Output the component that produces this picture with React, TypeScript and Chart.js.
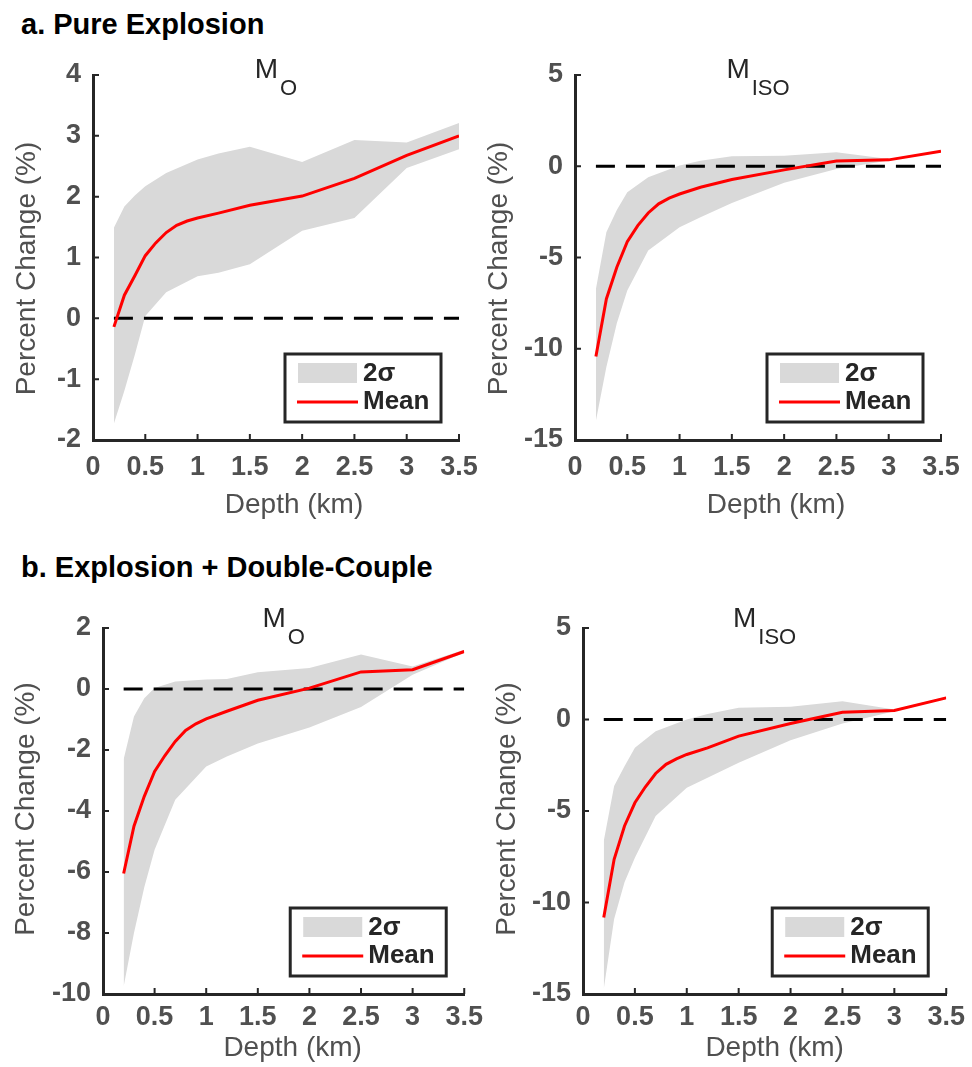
import React, { useEffect, useRef } from "react";
import { Chart, registerables } from "chart.js";

Chart.register(...registerables);

// ---------- data ----------
const DEPTHS_KM = [0.2, 0.3, 0.4, 0.5, 0.7, 1.0, 1.2, 1.5, 2.0, 2.5, 3.0, 3.5];
const MEAN_DEPTHS_KM = [0.2, 0.3, 0.4, 0.5, 0.6, 0.7, 0.8, 0.9, 1.0, 1.2, 1.5, 2.0, 2.5, 3.0, 3.5];
const ZERO_LINE_X = [0.2, 3.5];

// a. Pure Explosion — M_O
const A_MO_MEAN = [-0.14, 0.38, 0.7, 1.03, 1.24, 1.41, 1.53, 1.6, 1.65, 1.73, 1.86, 2.01, 2.3, 2.68, 3.0];
const A_MO_UPPER = [1.49, 1.84, 2.02, 2.17, 2.39, 2.61, 2.71, 2.82, 2.57, 2.93, 2.89, 3.21];
const A_MO_LOWER = [-1.73, -1.19, -0.6, 0.04, 0.43, 0.69, 0.75, 0.89, 1.44, 1.65, 2.47, 2.78];

// a. Pure Explosion — M_ISO
const A_MISO_MEAN = [-10.43, -7.27, -5.53, -4.13, -3.25, -2.56, -2.06, -1.75, -1.52, -1.15, -0.73, -0.2, 0.29, 0.35, 0.82];
const A_MISO_UPPER = [-6.72, -3.62, -2.4, -1.42, -0.6, 0.04, 0.3, 0.55, 0.58, 0.77, 0.4, 0.86];
const A_MISO_LOWER = [-13.94, -11.0, -8.6, -6.81, -4.62, -3.34, -2.79, -2.01, -0.91, -0.15, 0.31, 0.77];

// b. Explosion + Double-Couple — M_O
const B_MO_MEAN = [-6.05, -4.5, -3.52, -2.7, -2.18, -1.72, -1.36, -1.14, -0.98, -0.73, -0.37, 0.03, 0.56, 0.63, 1.23];
const B_MO_UPPER = [-2.3, -0.9, -0.3, 0.03, 0.25, 0.31, 0.33, 0.55, 0.69, 1.13, 0.74, 1.29];
const B_MO_LOWER = [-9.75, -8.0, -6.5, -5.27, -3.63, -2.54, -2.21, -1.79, -1.26, -0.59, 0.47, 1.2];

// b. Explosion + Double-Couple — M_ISO
const B_MISO_MEAN = [-10.82, -7.64, -5.82, -4.55, -3.69, -2.95, -2.45, -2.15, -1.91, -1.55, -0.91, -0.22, 0.4, 0.49, 1.18];
const B_MISO_UPPER = [-6.64, -3.64, -2.55, -1.55, -0.64, 0.0, 0.3, 0.64, 0.69, 1.0, 0.55, 1.24];
const B_MISO_LOWER = [-14.73, -10.9, -8.9, -7.55, -5.27, -3.73, -3.18, -2.36, -1.13, -0.22, 0.45, 1.13];

const X_LABEL = "Depth (km)";
const Y_LABEL = "Percent Change (%)";
const BAND_LABEL = "2σ";
const MEAN_LABEL = "Mean";

const FONT = "'Liberation Sans', Arial, Helvetica, sans-serif";
const AXIS_COLOR = "#262626";
const LABEL_COLOR = "#505050";
const BAND_COLOR = "#d9d9d9";

type Panel = {
  key: string;
  main: string;
  sub: string;
  mean: number[];
  upper: number[];
  lower: number[];
  yMin: number;
  yMax: number;
  yStep: number;
  canvas: { left: number; top: number; width: number; height: number };
  yScaleWidth: number;
  xScaleHeight: number;
  padTop: number;
  padRight: number;
  yTitleGap: number;
  yTitleDy: number;
  xTitleDx: number;
  xTitleBase: number;
  xTickPad: number;
  titleDy: number;
};

const PANELS: Panel[] = [
  {
    key: "a-mo", main: "M", sub: "O",
    mean: A_MO_MEAN, upper: A_MO_UPPER, lower: A_MO_LOWER,
    yMin: -2, yMax: 4, yStep: 1,
    canvas: { left: 0, top: 40, width: 490, height: 500 },
    yScaleWidth: 93, xScaleHeight: 100, padTop: 35, padRight: 31,
    yTitleGap: 58, yTitleDy: 11, xTitleDx: 18, xTitleBase: 73, xTickPad: 11, titleDy: 3,
  },
  {
    key: "a-miso", main: "M", sub: "ISO",
    mean: A_MISO_MEAN, upper: A_MISO_UPPER, lower: A_MISO_LOWER,
    yMin: -15, yMax: 5, yStep: 5,
    canvas: { left: 476, top: 40, width: 496, height: 500 },
    yScaleWidth: 99, xScaleHeight: 100, padTop: 35, padRight: 31,
    yTitleGap: 68, yTitleDy: 11, xTitleDx: 18, xTitleBase: 73, xTickPad: 11, titleDy: 3,
  },
  {
    key: "b-mo", main: "M", sub: "O",
    mean: B_MO_MEAN, upper: B_MO_UPPER, lower: B_MO_LOWER,
    yMin: -10, yMax: 2, yStep: 2,
    canvas: { left: 0, top: 590, width: 490, height: 477 },
    yScaleWidth: 103, xScaleHeight: 73, padTop: 38, padRight: 23,
    yTitleGap: 69, yTitleDy: -2, xTitleDx: 9, xTitleBase: 62, xTickPad: 7, titleDy: -1,
  },
  {
    key: "b-miso", main: "M", sub: "ISO",
    mean: B_MISO_MEAN, upper: B_MISO_UPPER, lower: B_MISO_LOWER,
    yMin: -15, yMax: 5, yStep: 5,
    canvas: { left: 476, top: 590, width: 496, height: 477 },
    yScaleWidth: 107, xScaleHeight: 73, padTop: 38, padRight: 24,
    yTitleGap: 68, yTitleDy: -2, xTitleDx: 10, xTitleBase: 62, xTickPad: 7, titleDy: -1,
  },
];

const decorPlugin = {
  id: "decor",
  afterDraw(chart: any, _args: any, opts: any) {
    const ctx: CanvasRenderingContext2D = chart.ctx;
    const { left, right, top, bottom } = chart.chartArea;
    const xs = chart.scales.x;
    const ys = chart.scales.y;
    ctx.save();

    // inward tick marks
    ctx.strokeStyle = AXIS_COLOR;
    ctx.lineWidth = 2;
    ctx.beginPath();
    xs.ticks.forEach((t: any) => {
      const p = xs.getPixelForValue(t.value);
      ctx.moveTo(p, bottom);
      ctx.lineTo(p, bottom - 6);
    });
    ys.ticks.forEach((t: any) => {
      const p = ys.getPixelForValue(t.value);
      ctx.moveTo(left, p);
      ctx.lineTo(left + 6, p);
    });
    ctx.stroke();

    // subplot title with subscript
    ctx.fillStyle = AXIS_COLOR;
    ctx.textBaseline = "alphabetic";
    ctx.textAlign = "left";
    const mainFont = `normal 28px ${FONT}`;
    const subFont = `normal 22px ${FONT}`;
    ctx.font = mainFont;
    const wMain = ctx.measureText(opts.main).width;
    ctx.font = subFont;
    const wSub = ctx.measureText(opts.sub).width;
    const gap = 2;
    const total = wMain + gap + wSub;
    const cx = (left + right) / 2;
    const baseMain = top + opts.titleDy;
    ctx.font = mainFont;
    ctx.fillText(opts.main, cx - total / 2, baseMain);
    ctx.font = subFont;
    ctx.fillText(opts.sub, cx - total / 2 + wMain + gap, baseMain + 17);

    // axis titles
    ctx.fillStyle = LABEL_COLOR;
    ctx.font = `normal 28px ${FONT}`;
    ctx.textAlign = "center";
    ctx.fillText(X_LABEL, cx + opts.xTitleDx, bottom + opts.xTitleBase);
    ctx.save();
    ctx.translate(left - opts.yTitleGap, (top + bottom) / 2 + opts.yTitleDy);
    ctx.rotate(-Math.PI / 2);
    ctx.fillText(Y_LABEL, 0, 0);
    ctx.restore();

    // legend box
    const bw = 156;
    const bh = 68;
    const x0 = right - 18 - bw;
    const y0 = bottom - 18 - bh;
    ctx.fillStyle = "#ffffff";
    ctx.fillRect(x0, y0, bw, bh);
    ctx.strokeStyle = AXIS_COLOR;
    ctx.lineWidth = 3;
    ctx.strokeRect(x0, y0, bw, bh);
    const band = chart.data.datasets[0];
    const mean = chart.data.datasets[3];
    ctx.fillStyle = band.backgroundColor;
    ctx.fillRect(x0 + 13, y0 + 9, 59, 20);
    ctx.strokeStyle = mean.borderColor;
    ctx.lineWidth = 3;
    ctx.beginPath();
    ctx.moveTo(x0 + 12, y0 + 48);
    ctx.lineTo(x0 + 73, y0 + 48);
    ctx.stroke();
    ctx.fillStyle = AXIS_COLOR;
    ctx.font = `bold 26px ${FONT}`;
    ctx.textAlign = "left";
    ctx.textBaseline = "middle";
    ctx.fillText(band.label, x0 + 78, y0 + 20);
    ctx.fillText(mean.label, x0 + 78, y0 + 48);

    ctx.restore();
  },
};

function PanelChart({ p }: { p: Panel }) {
  const ref = useRef<HTMLCanvasElement | null>(null);
  useEffect(() => {
    if (!ref.current) return;
    const toXY = (xs: number[], ys: number[]) => xs.map((d, i) => ({ x: d, y: ys[i] }));
    const tickFont = { family: FONT, size: 27, weight: "bold" as const };
    const chart = new Chart(ref.current, {
      type: "line",
      data: {
        datasets: [
          {
            label: BAND_LABEL,
            data: toXY(DEPTHS_KM, p.upper),
            borderWidth: 0,
            borderColor: "rgba(0,0,0,0)",
            backgroundColor: BAND_COLOR,
            pointRadius: 0,
            fill: "+1",
            order: 3,
          },
          {
            label: BAND_LABEL + " lower",
            data: toXY(DEPTHS_KM, p.lower),
            borderWidth: 0,
            borderColor: "rgba(0,0,0,0)",
            backgroundColor: BAND_COLOR,
            pointRadius: 0,
            fill: false,
            order: 3,
          },
          {
            label: "zero",
            data: ZERO_LINE_X.map((x) => ({ x, y: 0 })),
            borderColor: "#000000",
            borderWidth: 3,
            borderDash: [19, 11],
            pointRadius: 0,
            fill: false,
            order: 2,
          },
          {
            label: MEAN_LABEL,
            data: toXY(MEAN_DEPTHS_KM, p.mean),
            borderColor: "#ff0000",
            borderWidth: 3,
            pointRadius: 0,
            fill: false,
            order: 1,
          },
        ],
      },
      options: {
        responsive: false,
        animation: false,
        devicePixelRatio: 1,
        layout: { padding: { top: p.padTop, right: p.padRight, left: 0, bottom: 0 } },
        plugins: {
          legend: { display: false },
          tooltip: { enabled: false },
          title: { display: false },
          decor: {
            main: p.main,
            sub: p.sub,
            titleDy: p.titleDy,
            yTitleGap: p.yTitleGap,
            yTitleDy: p.yTitleDy,
            xTitleDx: p.xTitleDx,
            xTitleBase: p.xTitleBase,
          },
        } as any,
        scales: {
          x: {
            type: "linear",
            min: 0,
            max: 3.5,
            ticks: {
              stepSize: 0.5,
              autoSkip: false,
              maxRotation: 0,
              font: tickFont,
              color: LABEL_COLOR,
              padding: p.xTickPad,
              callback: (v: any) => String(v),
            },
            grid: { display: false, drawTicks: false },
            border: { display: true, color: AXIS_COLOR, width: 3 },
            afterFit: (s: any) => {
              s.height = p.xScaleHeight;
            },
          },
          y: {
            type: "linear",
            min: p.yMin,
            max: p.yMax,
            ticks: {
              stepSize: p.yStep,
              autoSkip: false,
              font: tickFont,
              color: LABEL_COLOR,
              padding: 12,
              callback: (v: any) => String(v),
            },
            grid: { display: false, drawTicks: false },
            border: { display: true, color: AXIS_COLOR, width: 3 },
            afterFit: (s: any) => {
              s.width = p.yScaleWidth;
            },
          },
        },
      },
      plugins: [decorPlugin],
    });
    return () => chart.destroy();
  }, [p]);
  return (
    <canvas
      ref={ref}
      width={p.canvas.width}
      height={p.canvas.height}
      style={{
        position: "absolute",
        left: p.canvas.left,
        top: p.canvas.top,
        width: p.canvas.width,
        height: p.canvas.height,
      }}
    />
  );
}

const headerStyle: React.CSSProperties = {
  position: "absolute",
  left: 21,
  fontFamily: FONT,
  fontWeight: "bold",
  fontSize: 29,
  lineHeight: "29px",
  color: "#000",
  whiteSpace: "nowrap",
};

export default function App() {
  return (
    <div
      style={{
        position: "absolute",
        left: 0,
        top: 0,
        width: 972,
        height: 1067,
        background: "#ffffff",
        overflow: "hidden",
      }}
    >
      <div style={{ ...headerStyle, top: 10 }}>a. Pure Explosion</div>
      <div style={{ ...headerStyle, top: 553 }}>b. Explosion + Double-Couple</div>
      {PANELS.map((p) => (
        <PanelChart key={p.key} p={p} />
      ))}
    </div>
  );
}
